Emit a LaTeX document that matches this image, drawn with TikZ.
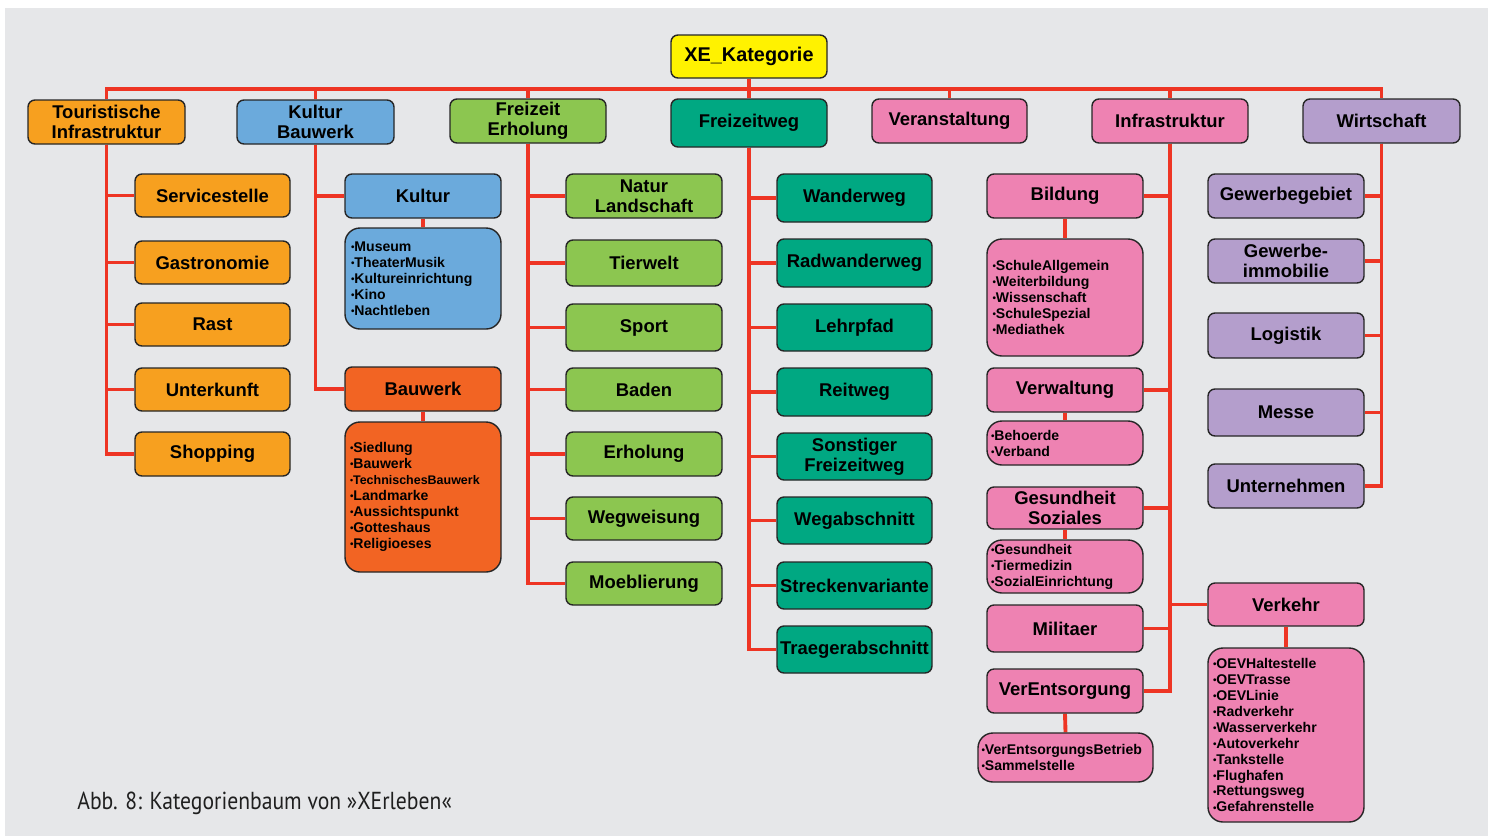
\documentclass[tikz,border=0pt]{standalone}
\usepackage{fontspec}
\usepackage{graphicx}
\setmainfont{Liberation Sans}
\newfontfamily\capfont{PT Sans}
\usetikzlibrary{backgrounds}
\definecolor{bggray}{HTML}{E6E7E9}
\definecolor{cred}{HTML}{EE3524}
\definecolor{corange}{HTML}{F7A01F}
\definecolor{cblue}{HTML}{6BAADC}
\definecolor{cgreen}{HTML}{8CC650}
\definecolor{cteal}{HTML}{00A882}
\definecolor{cpink}{HTML}{EE82B2}
\definecolor{cpurple}{HTML}{B49ECC}
\definecolor{cbau}{HTML}{F26423}
\definecolor{cyellow}{HTML}{FFF200}
\newcommand\bul{\raisebox{0.12ex}{\scalebox{0.7}{•}}}
\newcommand\mybox[7]{\node[box,fill=#2,minimum width={(#5-#3)*0.02cm},minimum height={(#6-#4)*0.02cm}] (#1) at ({(#3+#5)/2},{(#4+#6)/2}) {#7};}
\newcommand\mylist[8]{\node[listbox,fill=#2,minimum width={(#5-#3)*0.02cm},minimum height={(#6-#4)*0.02cm},text width=#7] (#1) at ({(#3+#5)/2},{(#4+#6)/2}) {#8};}
\tikzset{
  box/.style={draw=black!85, line width=0.8pt, rounded corners=0.14cm, inner sep=0pt, align=center,
    font=\fontsize{10.5}{11.3}\selectfont\bfseries},
  listbox/.style={box, rounded corners=0.3cm, align=left, font=\fontsize{8}{9.1}\selectfont\bfseries},
  conn/.style={draw=cred, line width=2.2pt},
}
\begin{document}
\begin{tikzpicture}[x=0.02cm,y=-0.02cm]
\useasboundingbox (0,0) rectangle (1491,836);
% root and level 1
\node[box,fill=cyellow,minimum width={156*0.02cm},minimum height={43*0.02cm},font=\fontsize{11.3}{12}\selectfont\bfseries] (root) at (749,56.5) {XE\_Kategorie};
\mybox{tour}{corange}{28}{100}{185}{144}{Touristische\\Infrastruktur}
\mybox{kb}{cblue}{237}{100}{394}{144}{Kultur\\Bauwerk}
\mybox{fe}{cgreen}{450}{99}{606}{143}{Freizeit\\Erholung}
\mybox{fw}{cteal}{671}{99}{827}{147}{Freizeitweg}
\mybox{ver}{cpink}{872}{99}{1027}{143}{Veranstaltung}
\mybox{inf}{cpink}{1092}{99}{1248}{143}{Infrastruktur}
\mybox{wir}{cpurple}{1303}{99}{1460}{143}{Wirtschaft}
% Touristische Infrastruktur
\mybox{serv}{corange}{135}{174}{290}{217}{Servicestelle}
\mybox{gast}{corange}{135}{241}{290}{284}{Gastronomie}
\mybox{rast}{corange}{135}{303}{290}{346}{Rast}
\mybox{unter}{corange}{135}{368}{290}{411}{Unterkunft}
\mybox{shop}{corange}{135}{432}{290}{476}{Shopping}
% Kultur Bauwerk
\mybox{kul}{cblue}{345}{174}{501}{218}{Kultur}
\mylist{kullist}{cblue}{345}{228}{501}{329}{2.88cm}{\bul Museum\\\bul TheaterMusik\\\bul Kultureinrichtung\\\bul Kino\\\bul Nachtleben}
\mybox{bau}{cbau}{345}{367}{501}{411}{Bauwerk}
\mylist{baulist}{cbau}{345}{422}{501}{572}{2.92cm}{\bul Siedlung\\\bul Bauwerk\\{\fontsize{7.1}{9.1}\selectfont\bul TechnischesBauwerk}\\\bul Landmarke\\\bul Aussichtspunkt\\\bul Gotteshaus\\\bul Religioeses}
% Freizeit Erholung
\mybox{natur}{cgreen}{566}{174}{722}{218}{Natur\\Landschaft}
\mybox{tier}{cgreen}{566}{240}{722}{286}{Tierwelt}
\mybox{sport}{cgreen}{566}{304}{722}{351}{Sport}
\mybox{baden}{cgreen}{566}{368}{722}{411}{Baden}
\mybox{erh}{cgreen}{566}{432}{722}{476}{Erholung}
\mybox{wegw}{cgreen}{566}{497}{722}{540}{Wegweisung}
\mybox{moeb}{cgreen}{566}{562}{722}{605}{Moeblierung}
% Freizeitweg
\mybox{wander}{cteal}{777}{174}{932}{222}{Wanderweg}
\mybox{rad}{cteal}{777}{239}{932}{287}{Radwanderweg}
\mybox{lehr}{cteal}{777}{304}{932}{351}{Lehrpfad}
\mybox{reit}{cteal}{777}{368}{932}{416}{Reitweg}
\mybox{sonst}{cteal}{777}{433}{932}{480}{Sonstiger\\Freizeitweg}
\mybox{wegab}{cteal}{777}{497}{932}{544}{Wegabschnitt}
\mybox{strecke}{cteal}{777}{562}{932}{609}{Streckenvariante}
\mybox{traeger}{cteal}{777}{626}{932}{673}{Traegerabschnitt}
% Infrastruktur
\mybox{bild}{cpink}{987}{174}{1143}{218}{Bildung}
\mylist{bildlist}{cpink}{987}{239}{1143}{356}{2.9cm}{\bul SchuleAllgemein\\\bul Weiterbildung\\\bul Wissenschaft\\\bul SchuleSpezial\\\bul Mediathek}
\mybox{verw}{cpink}{987}{368}{1143}{412}{Verwaltung}
\mylist{verwlist}{cpink}{987}{421}{1143}{465}{2.96cm}{\bul Behoerde\\\bul Verband}
\mybox{ges}{cpink}{987}{487}{1143}{529}{Gesundheit\\Soziales}
\mylist{geslist}{cpink}{987}{540}{1143}{593}{2.96cm}{\bul Gesundheit\\\bul Tiermedizin\\\bul SozialEinrichtung}
\mybox{mil}{cpink}{987}{605}{1143}{652}{Militaer}
\mybox{vent}{cpink}{987}{669}{1143}{713}{VerEntsorgung}
\mylist{ventlist}{cpink}{978}{733}{1153}{782}{3.36cm}{\bul VerEntsorgungsBetrieb\\\bul Sammelstelle}
\mybox{verk}{cpink}{1208}{583}{1364}{626}{Verkehr}
\mylist{verklist}{cpink}{1208}{648}{1364}{822}{2.92cm}{\bul OEVHaltestelle\\\bul OEVTrasse\\\bul OEVLinie\\\bul Radverkehr\\\bul Wasserverkehr\\\bul Autoverkehr\\\bul Tankstelle\\\bul Flughafen\\\bul Rettungsweg\\\bul Gefahrenstelle}
% Wirtschaft
\mybox{gg}{cpurple}{1208}{174}{1364}{218}{Gewerbegebiet}
\mybox{gi}{cpurple}{1208}{239}{1364}{283}{Gewerbe-\\immobilie}
\mybox{log}{cpurple}{1208}{313}{1364}{358}{Logistik}
\mybox{messe}{cpurple}{1208}{389}{1364}{436}{Messe}
\mybox{unt}{cpurple}{1208}{464}{1364}{508}{Unternehmen}
% caption
\node[font=\capfont\fontsize{14}{14}\selectfont, text=black!88, anchor=base west, inner sep=0pt] (cap) at (77,809) {\scalebox{0.88}[1]{Abb. 8: Kategorienbaum von »XErleben«}};
\begin{scope}[on background layer]
\fill[white] (0,0) rectangle (1491,836);
\fill[bggray] (5,8) rectangle (1488,836);
\coordinate (bar) at (0,89);
\draw[conn] (root.south) -- (root.south |- bar);
\draw[conn] (tour.north) -- (tour.north |- bar) -- (wir.north |- bar) -- (wir.north);
\foreach \n in {kb,fe,fw,ver,inf} \draw[conn] (\n.north) -- (\n.north |- bar);
\foreach \n in {serv,gast,rast,unter,shop} \draw[conn] (tour.south) |- (\n.west);
\foreach \n in {kul,bau} \draw[conn] (kb.south) |- (\n.west);
\foreach \n in {natur,tier,sport,baden,erh,wegw,moeb} \draw[conn] (fe.south) |- (\n.west);
\foreach \n in {wander,rad,lehr,reit,sonst,wegab,strecke,traeger} \draw[conn] (fw.south) |- (\n.west);
\foreach \n in {bild,verw,ges,mil,vent} \draw[conn] (inf.south) |- (\n.east);
\draw[conn] (inf.south) |- (verk.west);
\foreach \n in {gg,gi,log,messe,unt} \draw[conn] (wir.south) |- (\n.east);
\draw[conn] (kul.south) -- (kullist.north);
\draw[conn] (bau.south) -- (baulist.north);
\draw[conn] (bild.south) -- (bildlist.north);
\draw[conn] (verw.south) -- (verwlist.north);
\draw[conn] (ges.south) -- (geslist.north);
\draw[conn] (vent.south) -- (ventlist.north);
\draw[conn] (verk.south) -- (verklist.north);
\end{scope}
\end{tikzpicture}
\end{document}
